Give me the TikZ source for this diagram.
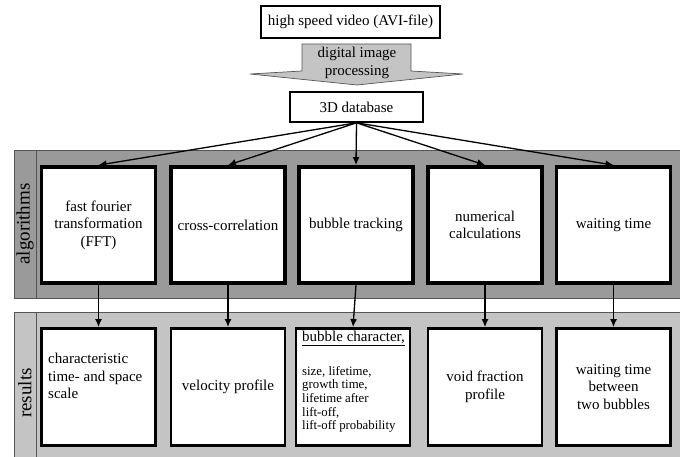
\documentclass[tikz,border=0pt]{standalone}
\usepackage{fontspec}
\setmainfont{Liberation Serif}
\usetikzlibrary{arrows.meta}
\definecolor{bandA}{HTML}{9A9A9A}
\definecolor{bandR}{HTML}{C4C4C4}
\definecolor{edgegray}{HTML}{555555}
\tikzset{
  plainbox/.style={draw=black, line width=1.6pt, fill=white, inner sep=0pt,
    font=\fontsize{15}{17.5}\selectfont},
  algbox/.style={draw=black, line width=3.8pt, fill=white, minimum width=114pt,
    minimum height=116pt, inner sep=0pt, align=center,
    font=\fontsize{15}{17.5}\selectfont},
  resbox/.style={draw=black, line width=2.8pt, fill=white, minimum width=114pt,
    minimum height=117pt, inner sep=0pt, align=center,
    font=\fontsize{15}{17.5}\selectfont},
  bandlabel/.style={rotate=90, font=\fontsize{19}{21}\selectfont, inner sep=0pt},
  conn/.style={line width=1.3pt, -{Latex[length=8pt,width=7pt]}},
  txt/.style={inner sep=0pt, align=left, font=\fontsize{15}{17.5}\selectfont}
}
\begin{document}
\begin{tikzpicture}[x=1pt,y=-1pt]
\useasboundingbox (0,0) rectangle (680,457);
% bands
\fill[bandA] (14,150) rectangle (682,298);
\draw[edgegray, line width=0.8pt] (682,150) -- (14,150) -- (14,298) -- (682,298);
\draw[edgegray, line width=0.8pt] (36,150) -- (36,298);
\fill[bandR] (14,312) rectangle (682,459);
\draw[edgegray, line width=0.8pt] (682,312) -- (14,312) -- (14,459);
\draw[edgegray, line width=0.8pt] (36,312) -- (36,459);
\node[bandlabel] (la) at (25,224) {algorithms};
\node[bandlabel] (lr) at (25,393) {results};
% top part
\node[plainbox, minimum width=179pt, minimum height=32pt] (video) at (350.5,22) {high speed video (AVI-file)};
\filldraw[fill=bandR, draw=edgegray, line width=0.7pt]
  (302,44) -- (411,44) -- (411,71) -- (463,74) -- (357,85) -- (250,74) -- (302,71) -- cycle;
\node[align=center, inner sep=0pt, font=\fontsize{15}{17.5}\selectfont] (dip) at (357,63) {digital image\\processing};
\node[plainbox, minimum width=133pt, minimum height=30pt] (db) at (356.5,107) {3D database};
% algorithm boxes
\node[algbox] (a1) at (98.5,225) {fast fourier\\transformation\\(FFT)};
\node[algbox] (a2) at (228,225) {cross-correlation};
\node[algbox] (a3) at (356,225) {bubble tracking};
\node[algbox] (a4) at (485,225) {numerical\\calculations};
\node[algbox] (a5) at (613.5,225) {waiting time};
% result boxes
\node[resbox] (r1) at (98.5,387) {};
\node[resbox] (r2) at (228,387) {velocity profile};
\node[resbox] (r3) at (353,387) {};
\node[resbox] (r4) at (485,387) {void fraction\\profile};
\node[resbox] (r5) at (613.5,387) {waiting time\\between\\ two bubbles};
\node[txt, anchor=north west] (t1) at (48,353) {characteristic\\time- and space\\scale};
\node[txt, anchor=north west] (t3a) at (302,331) {\underline{bubble character,}};
\node[inner sep=0pt, align=left, anchor=north west, font=\fontsize{12.8}{13.6}\selectfont] (t3b) at (302,366)
  {size, lifetime,\\growth time,\\lifetime after\\lift-off,\\lift-off probability};
% connectors
\foreach \i in {1,...,5} {
  \draw[conn] (db.south) -- (a\i.north);
  \draw[conn] (a\i.south) -- (r\i.north);
}
\end{tikzpicture}
\end{document}
